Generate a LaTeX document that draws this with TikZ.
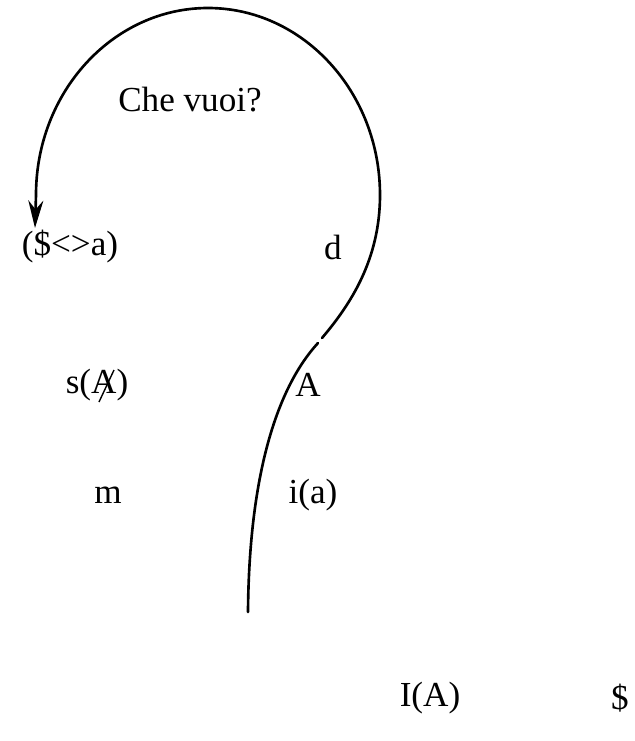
\documentclass[tikz,border=0pt]{standalone}
\usepackage{fontspec}
\setmainfont{Liberation Serif}
\usetikzlibrary{arrows.meta,positioning}

\begin{document}
\begin{tikzpicture}[
    x=0.02cm, y=-0.02cm,
    lbl/.style={font=\fontsize{20}{24}\selectfont, inner sep=0pt},
    qline/.style={line width=1.5pt, line cap=round},
    arr/.style={qline, -{Stealth[length=5.5mm, width=3mm]}}
]
\useasboundingbox (0,0) rectangle (635,741);
\node[lbl] (che) at (190,100) {Che vuoi?};
\node[lbl] (fant) at (70,247) {(\$<>a)};
\node[lbl] (d) at (333,247) {d};
\node[lbl] (sig) at (97,385) {s(A)};
\node[lbl] (bigA) at (308,385) {A};
\node[lbl] (m) at (108,495) {m};
\node[lbl] (ia) at (313,495) {i(a)};
\node[lbl] (IA) at (430,698) {I(A)};
\node[lbl] (subj) at (620,698) {\$};

% bar through the A
\draw[line width=0.8pt] ([shift={(2,17)}]sig.center) -- ([shift={(17,-15)}]sig.center);

\coordinate (base) at (248,612);
\coordinate (cut1) at (318,343);
\coordinate (cut2) at (322,338);
\coordinate (tip) at (35,228);
\draw[qline] (base) .. controls (249,480) and (275,390) .. (cut1);
\draw[arr] (cut2) .. controls (350,305) and (380,260) .. (380,195)
    .. controls (380,92) and (303,8) .. (208,8)
    .. controls (113,8) and (36,92) .. (36,195) -- (tip);
\end{tikzpicture}
\end{document}
